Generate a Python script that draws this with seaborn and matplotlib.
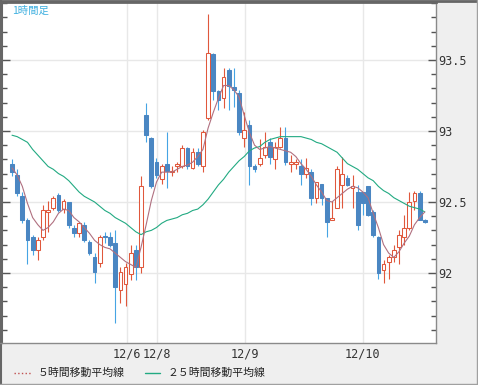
import numpy as np
import matplotlib
matplotlib.use("Agg")
import matplotlib.pyplot as plt
import seaborn as sns
from matplotlib.lines import Line2D
from matplotlib.ticker import MultipleLocator

# hourly candles
opens = [92.77, 92.69, 92.54, 92.37, 92.25, 92.16, 92.25, 92.43, 92.46, 92.55,
         92.45, 92.50, 92.32, 92.28, 92.34, 92.22, 92.11, 92.07, 92.26, 92.25,
         92.21, 91.88, 91.92, 91.99, 92.16, 92.04, 93.11, 92.95, 92.78, 92.66,
         92.77, 92.71, 92.75, 92.75, 92.88, 92.74, 92.85, 92.75, 93.09, 93.54,
         93.28, 93.23, 93.43, 93.31, 93.27, 92.95, 93.04, 92.75, 92.77, 92.83,
         92.92, 92.80, 92.89, 92.95, 92.77, 92.77, 92.75, 92.70, 92.71, 92.53,
         92.63, 92.53, 92.37, 92.46, 92.62, 92.67, 92.60, 92.57, 92.57, 92.61,
         92.43, 92.25, 92.02, 92.08, 92.11, 92.18, 92.25, 92.32, 92.51, 92.56,
         92.37]
highs = [92.80, 92.73, 92.57, 92.39, 92.27, 92.25, 92.48, 92.51, 92.54, 92.56,
         92.52, 92.50, 92.34, 92.36, 92.36, 92.23, 92.14, 92.27, 92.29, 92.29,
         92.30, 92.04, 92.07, 92.20, 92.20, 92.68, 93.20, 92.96, 92.81, 92.77,
         92.99, 92.75, 92.78, 92.90, 92.89, 92.88, 92.88, 93.01, 93.82, 93.55,
         93.29, 93.44, 93.44, 93.44, 93.29, 93.13, 93.08, 92.77, 92.94, 92.99,
         92.95, 92.92, 93.03, 93.03, 92.83, 92.80, 92.80, 92.81, 92.73, 92.64,
         92.63, 92.53, 92.51, 92.75, 92.82, 92.69, 92.69, 92.62, 92.57, 92.61,
         92.44, 92.26, 92.09, 92.13, 92.20, 92.30, 92.41, 92.57, 92.58, 92.58,
         92.38]
lows = [92.68, 92.54, 92.35, 92.06, 92.13, 92.09, 92.23, 92.29, 92.44, 92.43,
        92.42, 92.32, 92.25, 92.25, 92.22, 92.13, 91.93, 92.04, 92.21, 92.18,
        91.65, 91.79, 91.77, 91.95, 91.95, 92.00, 92.92, 92.60, 92.67, 92.63,
        92.60, 92.68, 92.71, 92.74, 92.73, 92.73, 92.75, 92.71, 93.08, 93.22,
        93.15, 93.16, 93.15, 93.17, 92.97, 92.89, 92.62, 92.71, 92.75, 92.81,
        92.77, 92.73, 92.88, 92.76, 92.71, 92.73, 92.62, 92.67, 92.48, 92.49,
        92.48, 92.25, 92.37, 92.46, 92.46, 92.61, 92.46, 92.30, 92.41, 92.40,
        92.25, 91.96, 91.93, 91.96, 92.08, 92.06, 92.20, 92.30, 92.44, 92.37,
        92.35]
closes = [92.71, 92.56, 92.37, 92.23, 92.16, 92.23, 92.44, 92.44, 92.53, 92.44,
          92.51, 92.34, 92.28, 92.35, 92.23, 92.14, 92.01, 92.25, 92.25, 92.20,
          91.90, 92.01, 92.04, 92.14, 92.04, 92.61, 92.97, 92.61, 92.69, 92.75,
          92.72, 92.72, 92.77, 92.88, 92.75, 92.85, 92.77, 92.99, 93.55, 93.28,
          93.22, 93.38, 93.32, 93.29, 92.99, 93.01, 92.75, 92.73, 92.81, 92.89,
          92.82, 92.89, 92.95, 92.78, 92.78, 92.78, 92.70, 92.74, 92.53, 92.64,
          92.53, 92.36, 92.39, 92.73, 92.70, 92.62, 92.61, 92.34, 92.49, 92.41,
          92.27, 92.00, 92.06, 92.11, 92.16, 92.27, 92.32, 92.50, 92.56, 92.37,
          92.36]

# moving averages as drawn on the chart
ma5 = [92.74, 92.69, 92.61, 92.49, 92.39, 92.34, 92.30, 92.32, 92.36, 92.42,
       92.45, 92.44, 92.39, 92.36, 92.32, 92.28, 92.23, 92.20, 92.18, 92.17,
       92.14, 92.11, 92.08, 92.06, 92.04, 92.18, 92.34, 92.51, 92.64, 92.71,
       92.71, 92.71, 92.73, 92.75, 92.76, 92.78, 92.82, 92.87, 93.02, 93.13,
       93.23, 93.32, 93.32, 93.29, 93.24, 93.11, 92.99, 92.90, 92.87, 92.88,
       92.89, 92.88, 92.87, 92.86, 92.85, 92.82, 92.77, 92.73, 92.68, 92.62,
       92.57, 92.51, 92.50, 92.53, 92.56, 92.59, 92.61, 92.60, 92.57, 92.53,
       92.42, 92.32, 92.20, 92.14, 92.11, 92.15, 92.21, 92.26, 92.34, 92.39,
       92.43]
ma25 = [92.97, 92.96, 92.94, 92.92, 92.87, 92.83, 92.79, 92.75, 92.73, 92.70,
        92.68, 92.65, 92.61, 92.57, 92.54, 92.52, 92.50, 92.47, 92.44, 92.42,
        92.39, 92.37, 92.35, 92.32, 92.29, 92.27, 92.29, 92.30, 92.32, 92.35,
        92.37, 92.38, 92.39, 92.41, 92.42, 92.44, 92.45, 92.48, 92.52, 92.57,
        92.62, 92.66, 92.71, 92.75, 92.79, 92.82, 92.86, 92.88, 92.89, 92.92,
        92.94, 92.95, 92.96, 92.96, 92.96, 92.96, 92.96, 92.95, 92.94, 92.92,
        92.91, 92.89, 92.87, 92.85, 92.81, 92.77, 92.75, 92.73, 92.70, 92.67,
        92.65, 92.61, 92.58, 92.56, 92.53, 92.51, 92.49, 92.47, 92.46, 92.45,
        92.43]

date_ticks = [22.3, 28.1, 45.2, 68.0]
date_labels = ["12/6", "12/8", "12/9", "12/10"]
price_ticks = [92, 92.5, 93, 93.5]
price_labels = ["92", "92.5", "93", "93.5"]

UP = "#e0583c"
DOWN = "#4a86c2"
DOWN_WICK = "#46a4e4"
MA5_COLOR = "#b07080"
MA25_COLOR = "#22aa82"
JP_FONT = ["Noto Sans CJK JP", "DejaVu Sans"]

sns.set_style("white")

fig = plt.figure(figsize=(4.78, 3.85), dpi=100)
fig.patch.set_facecolor("#efefef")
ax = fig.add_axes([2 / 478, 42 / 385, 434 / 478, 341 / 385])
ax.set_facecolor("white")

x = np.arange(len(closes))
o = np.array(opens)
c = np.array(closes)
up = c >= o

# wicks then bodies (hollow red up-candles hide the wick inside)
wick_colors = [UP if u else DOWN_WICK for u in up]
ax.vlines(x, lows, highs, colors=wick_colors, linewidth=0.8, zorder=2)
body_bottom = np.minimum(o, c)
body_height = np.maximum(np.abs(c - o), 0.008)
ax.bar(x, body_height, bottom=body_bottom, width=0.72,
       color=["white" if u else DOWN for u in up],
       edgecolor=[UP if u else DOWN for u in up], linewidth=0.75, zorder=3)

sns.lineplot(x=x, y=ma25, ax=ax, color=MA25_COLOR, linewidth=0.8, zorder=4)
sns.lineplot(x=x, y=ma5, ax=ax, color=MA5_COLOR, linewidth=0.8, zorder=4)

ax.set_xlim(-1.94, 82.17)
ax.set_ylim(91.507, 93.908)
ax.set_xlabel("")
ax.set_ylabel("")

ax.set_xticks(date_ticks)
ax.set_xticklabels(date_labels)
ax.set_yticks(price_ticks)
ax.set_yticklabels(price_labels)
ax.yaxis.set_minor_locator(MultipleLocator(0.1))

ax.grid(True, which="major", color="#e8e8e8", linewidth=1)
ax.set_axisbelow(True)

ax.tick_params(axis="x", length=0, pad=3, labelsize=8.5, labelcolor="#333333")
ax.tick_params(axis="y", which="both", direction="in", left=True, right=True,
               labelleft=False, labelright=True, color="#555555",
               labelsize=8.5, labelcolor="#333333", pad=1.5)
ax.tick_params(axis="y", which="major", length=6, width=1)
ax.tick_params(axis="y", which="minor", length=3.5, width=1)
for lab in ax.get_xticklabels() + ax.get_yticklabels():
    lab.set_fontfamily("DejaVu Sans Mono")

ax.spines["top"].set_color("#666666")
ax.spines["top"].set_linewidth(2)
ax.spines["left"].set_color("#666666")
ax.spines["left"].set_linewidth(1.5)
for side in ["right", "bottom"]:
    ax.spines[side].set_color("#8a8a8a")
    ax.spines[side].set_linewidth(1)

ax.text(10 / 434, 1 - 4 / 341, "1時間足", transform=ax.transAxes,
        va="top", ha="left", fontsize=7.5, color="#3fb0e0", family=JP_FONT)

# outer frame
fig.add_artist(Line2D([0, 1], [0.998, 0.998], color="#666666", linewidth=2))
fig.add_artist(Line2D([0.002, 0.002], [0, 1], color="#666666", linewidth=1.5))
fig.add_artist(Line2D([0, 1], [1.5 / 385, 1.5 / 385], color="#a0a0a0", linewidth=1))
fig.add_artist(Line2D([476.5 / 478, 476.5 / 478], [0, 1], color="#a0a0a0", linewidth=1))
fig.add_artist(Line2D([0, 2 / 478], [42 / 385, 42 / 385], color="#8a8a8a", linewidth=1))

# legend row
ly = 1 - 373 / 385
fig.add_artist(Line2D([14 / 478, 31 / 478], [ly, ly], color="#c05050",
                      linewidth=1, linestyle=":"))
fig.text(38 / 478, ly, "５時間移動平均線", va="center", ha="left",
         fontsize=7.8, color="#222222", family=JP_FONT)
fig.add_artist(Line2D([145 / 478, 160 / 478], [ly, ly], color=MA25_COLOR,
                      linewidth=1))
fig.text(168 / 478, ly, "２５時間移動平均線", va="center", ha="left",
         fontsize=7.8, color="#222222", family=JP_FONT)

fig.savefig("out.png", dpi=100, facecolor=fig.get_facecolor())
